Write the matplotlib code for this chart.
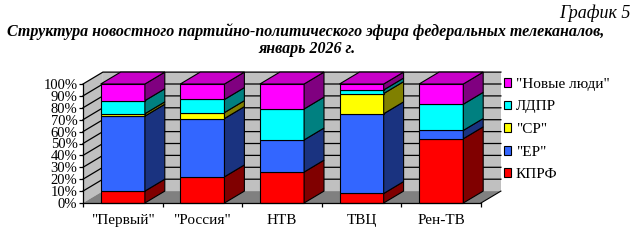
"""
3D-style 100% stacked bars: party share of federal TV news airtime, January 2026.
"""

import matplotlib
matplotlib.use("Agg")
import matplotlib.pyplot as plt
from matplotlib.patches import Polygon, Patch
from matplotlib.lines import Line2D
from matplotlib.colors import to_rgb

channels = ['"Первый"', '"Россия"', "НТВ", "ТВЦ", "Рен-ТВ"]
parties = ["КПРФ", '"ЕР"', '"СР"', "ЛДПР", '"Новые люди"']

kprf = [10, 22, 26, 8, 54]
er = [63, 49, 27, 67, 7]
sr = [2, 5, 0, 17, 0]
ldpr = [11, 11, 26, 3, 22]
new_people = [14, 13, 21, 5, 17]

series = [kprf, er, sr, ldpr, new_people]
colors = ["#ff0000", "#3366ff", "#ffff00", "#00ffff", "#ff00ff"]

DEPTH_X = 0.25   # oblique depth, category units
DEPTH_Y = 10.0   # oblique depth, percent units
BAR_W = 0.555

plt.rcParams["font.family"] = ["Liberation Serif", "DejaVu Serif"]


def shade(color, k):
    r, g, b = to_rgb(color)
    return (r * k, g * k, b * k)


def poly(ax, pts, face, lw=0.8, edge="black", z=1):
    ax.add_patch(Polygon(pts, closed=True, facecolor=face, edgecolor=edge,
                         linewidth=lw, clip_on=False, zorder=z))


def main():
    fig = plt.figure(figsize=(6.38, 2.41), dpi=100)
    ax = fig.add_axes([83 / 638, 38 / 241, 398 / 638, 119 / 241])
    ax.patch.set_visible(False)
    n = len(channels)
    ax.set_xlim(0, n)
    ax.set_ylim(0, 100)

    # walls and floor
    dx, dy = DEPTH_X, DEPTH_Y
    poly(ax, [(dx, dy), (n + dx, dy), (n + dx, 100 + dy), (dx, 100 + dy)],
         "#c0c0c0", edge="none", z=0.5)
    poly(ax, [(0, 0), (dx, dy), (dx, 100 + dy), (0, 100)],
         "#c0c0c0", edge="none", z=0.5)
    poly(ax, [(0, 0), (n, 0), (n + dx, dy), (dx, dy)],
         "#808080", edge="none", z=0.6)
    ax.add_line(Line2D([n, n + dx], [0, dy], color="black", lw=0.8,
                       clip_on=False, zorder=0.7))
    for v in range(10, 101, 10):
        ax.add_line(Line2D([0, dx, n + dx], [v, v + dy, v + dy],
                           color="black", lw=0.9, clip_on=False, zorder=0.7))

    # stacked bars
    for i in range(n):
        x0 = i + 0.5 - BAR_W / 2
        x1 = x0 + BAR_W
        bottom = 0
        top_color = None
        for vals, c in zip(series, colors):
            v = vals[i]
            if v <= 0:
                continue
            y0, y1 = bottom, bottom + v
            poly(ax, [(x0, y0), (x1, y0), (x1, y1), (x0, y1)], c, z=2)
            poly(ax, [(x1, y0), (x1 + dx, y0 + dy), (x1 + dx, y1 + dy), (x1, y1)],
                 shade(c, 0.5), z=2)
            bottom = y1
            top_color = c
        poly(ax, [(x0, bottom), (x1, bottom), (x1 + dx, bottom + dy),
                  (x0 + dx, bottom + dy)], shade(top_color, 0.78), z=2)

    # axes
    for s in ["top", "right"]:
        ax.spines[s].set_visible(False)
    for s in ["left", "bottom"]:
        ax.spines[s].set_linewidth(0.9)
    ax.set_yticks(range(0, 101, 10))
    ax.set_yticklabels([f"{v}%" for v in range(0, 101, 10)], fontsize=10.5)
    ax.tick_params(axis="y", length=3, width=0.9, pad=1)
    ax.set_xticks(range(0, n + 1))
    ax.set_xticklabels([])
    ax.set_xticks([i + 0.5 for i in range(n)], minor=True)
    ax.set_xticklabels(channels, minor=True, fontsize=11)
    ax.tick_params(axis="x", which="major", length=3, width=0.9)
    ax.tick_params(axis="x", which="minor", length=0, pad=8)

    # legend
    handles = [Patch(facecolor=c, edgecolor="black", linewidth=0.8)
               for c in colors][::-1]
    fig.legend(handles, parties[::-1], loc="upper left",
               bbox_to_anchor=(493 / 638, 1 - 67 / 241), frameon=False,
               fontsize=11, handlelength=0.5, handleheight=0.5,
               handletextpad=0.3, labelspacing=0.63, borderpad=0.2)

    # titles
    fig.text(0.988, 1 - 4 / 241, "График 5", ha="right", va="top",
             fontsize=13, style="italic")
    fig.text(306 / 638, 1 - 36 / 241,
             "Структура новостного партийно-политического эфира "
             "федеральных телеканалов,",
             ha="center", va="baseline", fontsize=11.5, style="italic",
             weight="bold")
    fig.text(307 / 638, 1 - 53 / 241, "январь 2026 г.",
             ha="center", va="baseline", fontsize=11.5, style="italic",
             weight="bold")

    fig.savefig("out.png", dpi=100)
    plt.close(fig)


if __name__ == "__main__":
    main()
